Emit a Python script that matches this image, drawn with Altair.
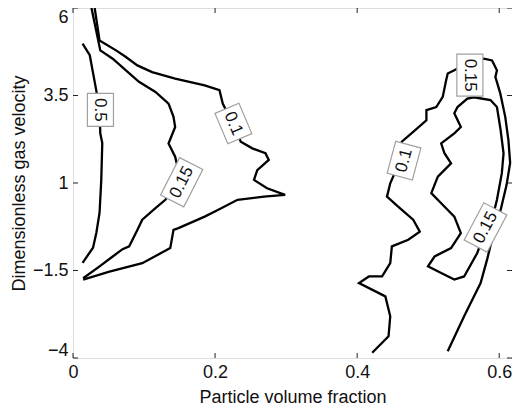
import altair as alt
import pandas as pd

# ---- axis ticks ----
x_ticks = [0, 0.2, 0.4, 0.6]
y_ticks = [-4, -1.5, 1, 3.5, 6]

# ---- contour lines ----
c05_left_x = [0.0135, 0.0236, 0.0319, 0.0374, 0.0384, 0.0412, 0.0398, 0.0374, 0.0329, 0.0282, 0.0135]
c05_left_y = [4.98, 4.65, 3.74, 3.11, 2.42, 2.14, 1.09, 0.15, -0.42, -0.85, -1.28]

c015_left_x = [0.026, 0.0384, 0.0559, 0.0745, 0.0929, 0.1161, 0.1345, 0.1415, 0.1438, 0.1345, 0.1438,
               0.1521, 0.130, 0.1161, 0.0975, 0.0906, 0.0791, 0.0698, 0.0559, 0.0374, 0.0143]
c015_left_y = [6.0, 4.79, 4.55, 4.22, 3.89, 3.60, 3.27, 2.89, 2.60, 2.13, 1.75,
               1.04, 0.52, 0.28, -0.05, -0.34, -0.81, -0.89, -1.10, -1.38, -1.72]

c01_left_x = [0.0305, 0.0374, 0.0606, 0.0745, 0.0906, 0.1114, 0.1438, 0.1854, 0.2062, 0.2108, 0.2247,
              0.2362, 0.2524, 0.2709, 0.2756, 0.2594, 0.2548, 0.2732, 0.2986, 0.2687, 0.2316, 0.2039,
              0.1854, 0.1484, 0.1415, 0.1369, 0.0975, 0.0513, 0.0143]
c01_left_y = [6.0, 5.07, 4.79, 4.60, 4.36, 4.17, 3.98, 3.79, 3.65, 3.27, 2.71,
              2.18, 1.99, 1.85, 1.66, 1.37, 1.09, 0.85, 0.66, 0.61, 0.52, 0.23,
              0.04, -0.29, -0.34, -0.86, -1.29, -1.53, -1.76]

c01_right_x = [0.4212, 0.4442, 0.4466, 0.4397, 0.4026, 0.4165, 0.4351, 0.4466, 0.4489, 0.472, 0.4882,
               0.4789, 0.4581, 0.442, 0.4466, 0.4614, 0.4628, 0.4789, 0.4975, 0.4975, 0.5114, 0.5205,
               0.5252, 0.5275, 0.5368, 0.5576, 0.5784, 0.5899, 0.5968, 0.5946, 0.6015, 0.6085, 0.613,
               0.6154, 0.6103, 0.602, 0.5922, 0.5829, 0.5738, 0.5506, 0.5275]
c01_right_y = [-3.85, -3.38, -2.81, -2.24, -1.86, -1.67, -1.67, -1.29, -0.81, -0.62, -0.39,
               -0.05, 0.32, 0.61, 0.99, 1.68, 2.18, 2.46, 2.79, 3.08, 3.17, 3.46,
               3.93, 4.13, 4.22, 4.45, 4.55, 4.50, 4.22, 4.03, 3.56, 2.89, 2.22,
               1.57, 0.94, 0.23, -0.42, -1.19, -1.86, -2.81, -3.81]

c015_right_x = [0.5645, 0.5552, 0.5413, 0.5368, 0.546, 0.5368, 0.5183, 0.5229, 0.5322, 0.5136, 0.5044,
                0.5183, 0.5368, 0.546, 0.5322, 0.509, 0.4997, 0.5183, 0.5368, 0.5506, 0.5691, 0.5784,
                0.5922, 0.5968, 0.6037, 0.6061, 0.602, 0.5968, 0.5877, 0.5645]
c015_right_y = [3.45, 3.41, 3.17, 2.99, 2.60, 2.42, 2.13, 1.85, 1.56, 1.18, 0.71,
                0.42, 0.04, -0.43, -0.86, -1.10, -1.38, -1.57, -1.76, -1.67, -1.00, -0.48,
                0.14, 0.52, 1.28, 1.85, 2.51, 3.17, 3.37, 3.45]

# ---- contour labels ----
label_text = ["0.5", "0.1", "0.15", "0.1", "0.15", "0.15"]
label_x = [0.0386, 0.2258, 0.153, 0.466, 0.5587, 0.5807]
label_y = [3.09, 2.70, 1.02, 1.64, 4.08, -0.27]
label_angle = [90, 67, 297, 285, 90, 298]

contours = [(c05_left_x, c05_left_y), (c015_left_x, c015_left_y), (c01_left_x, c01_left_y),
            (c01_right_x, c01_right_y), (c015_right_x, c015_right_y)]
rows = []
for cid, (xs_, ys_) in enumerate(contours):
    for i, (a, b) in enumerate(zip(xs_, ys_)):
        rows.append({"cid": cid, "i": i, "x": a, "y": b})
lines_df = pd.DataFrame(rows)

labels_df = pd.DataFrame({"t": label_text, "x": label_x, "y": label_y, "a": label_angle})
labels_df["kind"] = labels_df["t"].str.len().map(lambda n: "s" if n <= 3 else "l")

W, H = 439, 350
FONT = "Liberation Sans"

xs = alt.Scale(domain=[0, 0.618], nice=False, zero=False)
ys = alt.Scale(domain=[-4, 6], nice=False, zero=False)

xaxis = alt.Axis(values=x_ticks, format=".3~g", tickSize=0, domain=False, grid=False, labelFontSize=18,
                 labelFont=FONT, labelColor="#111", labelPadding=5, labelFlush=False,
                 title="Particle volume fraction", titleFont=FONT, titleFontSize=18,
                 titleFontWeight="normal", titleColor="#111", titleX=W / 2, titleY=39,
                 titleBaseline="middle", titleAlign="center")
yaxis = alt.Axis(values=y_ticks, format=".3~g", tickSize=0, domain=False, grid=False, labelFontSize=18,
                 labelFont=FONT, labelColor="#111", labelPadding=5, labelFlush=False,
                 labelOffset={"condition": {"test": "datum.value == -4", "value": -8},
                              "value": 0},
                 labelBaseline={"condition": {"test": "datum.value == 6", "value": "top"},
                                "value": "middle"},
                 title="Dimensionless gas velocity", titleFont=FONT, titleFontSize=18,
                 titleFontWeight="normal", titleColor="#111", titleX=-54, titleY=H / 2,
                 titleAngle=270, titleBaseline="middle", titleAlign="center")

lines = alt.Chart(lines_df).mark_line(color="black", strokeWidth=2.3, clip=True).encode(
    x=alt.X("x:Q", scale=xs, axis=xaxis),
    y=alt.Y("y:Q", scale=ys, axis=yaxis),
    detail="cid:N",
    order="i:Q",
)

box_s = "M-1,-0.79L1,-0.79L1,0.79L-1,0.79Z"
box_l = "M-1,-0.62L1,-0.62L1,0.62L-1,0.62Z"

boxes_s = alt.Chart(labels_df).transform_filter("datum.kind == 's'").mark_point(
    shape=box_s, size=33 * 33, filled=True, fill="white", fillOpacity=1,
    stroke="#a0a0a0", strokeWidth=1.2, opacity=1).encode(
    x=alt.X("x:Q", scale=xs), y=alt.Y("y:Q", scale=ys), angle=alt.Angle("a:Q", scale=None))
boxes_l = alt.Chart(labels_df).transform_filter("datum.kind == 'l'").mark_point(
    shape=box_l, size=42 * 42, filled=True, fill="white", fillOpacity=1,
    stroke="#a0a0a0", strokeWidth=1.2, opacity=1).encode(
    x=alt.X("x:Q", scale=xs), y=alt.Y("y:Q", scale=ys), angle=alt.Angle("a:Q", scale=None))

texts = alt.Chart(labels_df).mark_text(font=FONT, fontSize=17, color="#111",
                                       align="center", baseline="middle").encode(
    x=alt.X("x:Q", scale=xs), y=alt.Y("y:Q", scale=ys),
    angle=alt.Angle("a:Q", scale=None), text="t:N")

# inward ticks on all four sides
xt_df = pd.DataFrame({"v": x_ticks})
yt_df = pd.DataFrame({"v": y_ticks})
tick_style = dict(color="#222", strokeWidth=1)
xt_bottom = alt.Chart(xt_df).mark_rule(**tick_style).encode(
    x=alt.X("v:Q", scale=xs), y=alt.value(H), y2=alt.value(H - 5))
xt_top = alt.Chart(xt_df).mark_rule(**tick_style).encode(
    x=alt.X("v:Q", scale=xs), y=alt.value(0), y2=alt.value(5))
yt_left = alt.Chart(yt_df).mark_rule(**tick_style).encode(
    y=alt.Y("v:Q", scale=ys), x=alt.value(0), x2=alt.value(5))
yt_right = alt.Chart(yt_df).mark_rule(**tick_style).encode(
    y=alt.Y("v:Q", scale=ys), x=alt.value(W), x2=alt.value(W - 5))

chart = alt.layer(lines, boxes_s, boxes_l, texts, xt_bottom, xt_top, yt_left, yt_right).properties(
    width=W, height=H,
    autosize=alt.AutoSizeParams(type="none"),
    padding={"left": 65, "top": 0, "right": 0, "bottom": 50},
).configure_view(stroke="#222", strokeWidth=1).configure(background="white")

chart.save("out.html", embed_options={"renderer": "svg", "actions": False})
